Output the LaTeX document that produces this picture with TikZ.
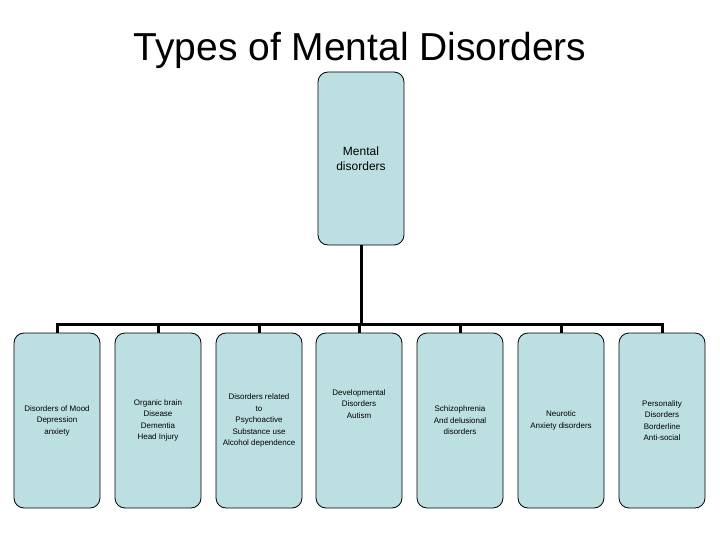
\documentclass[tikz,border=0pt]{standalone}
\usepackage{fontspec}
\setmainfont{Liberation Sans}
\begin{document}
\begin{tikzpicture}[x=1pt,y=-1pt,
  box/.style={draw=black,line width=0.8pt,fill=boxfill,rounded corners=10pt,minimum width=86pt,minimum height=175pt,align=center,font=\fontsize{8}{11.5}\selectfont,inner sep=1pt},
  conn/.style={line width=3pt}]
\definecolor{boxfill}{HTML}{BCE0E2}
\useasboundingbox (0,0) rectangle (720,540);
\node[font=\fontsize{39}{42}\selectfont] (title) at (360,50) {Types of Mental Disorders};
\node[box,minimum height=173pt,font=\fontsize{12}{15}\selectfont] (top) at (361,158.5) {Mental\\disorders};
\coordinate (bar) at (361,324);
\foreach \n/\x/\t in {a/57/{Disorders of Mood\\Depression\\anxiety},
  b/158/{Organic brain\\Disease\\Dementia\\Head Injury},
  c/259/{Disorders related\\to\\Psychoactive\\Substance use\\Alcohol dependence},
  d/359/{Developmental\\Disorders\\Autism\\[22pt]\mbox{}},
  e/460/{Schizophrenia\\And delusional\\disorders},
  f/561/{Neurotic\\Anxiety disorders},
  g/662/{Personality\\Disorders\\Borderline\\Anti-social}}
{
  \node[box] (\n) at (\x,420.5) {\t};
}
\draw[conn] (top.south) -- (bar);
\draw[conn] ([xshift=-1.5pt]a.north|-bar) -- ([xshift=1.5pt]g.north|-bar);
\foreach \n in {a,b,c,d,e,f,g} \draw[conn] (\n.north|-bar) -- (\n.north);
\end{tikzpicture}
\end{document}
